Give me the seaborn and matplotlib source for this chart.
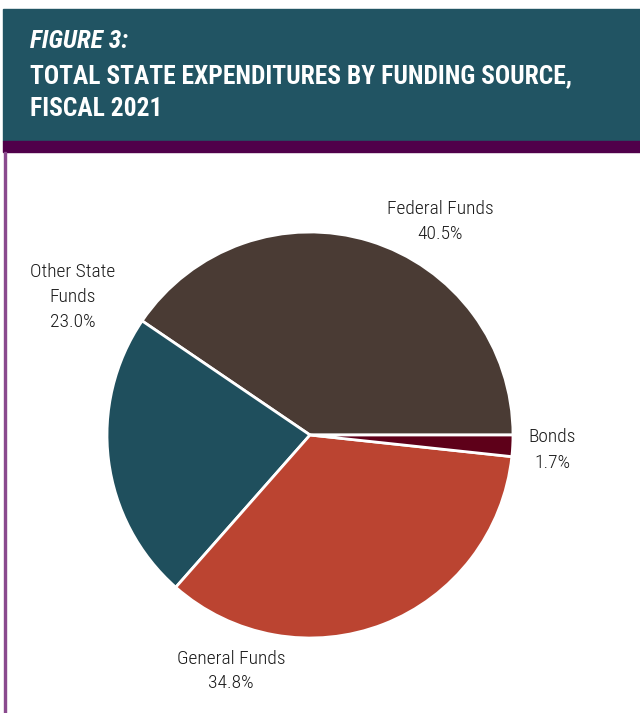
import matplotlib
matplotlib.use("Agg")
import matplotlib.pyplot as plt
from matplotlib.patches import Rectangle
import seaborn as sns

# Funding sources and their share of total state expenditures (%)
sources = ["Federal Funds", "Other State\nFunds", "General Funds", "Bonds"]
shares = [40.5, 23.0, 34.8, 1.7]
slice_colors = ["#4a3b34", "#1f4f5d", "#bb4431", "#5e0019"]

title_kicker = "FIGURE 3:"
title_lines = ["TOTAL STATE EXPENDITURES BY FUNDING SOURCE,", "FISCAL 2021"]

sns.set_theme(style="white")
plt.rcParams["font.family"] = ["Roboto Condensed", "Archivo Narrow", "DejaVu Sans"]

W, H = 640, 713
fig = plt.figure(figsize=(W / 100, H / 100), dpi=100)
fig.patch.set_facecolor("white")


def fx(px):
    return px / W


def fy(py):
    return 1 - py / H


# Header band and accent strip
fig.add_artist(Rectangle((fx(3), fy(141)), fx(637), 132 / H,
                         transform=fig.transFigure, color="#215463", zorder=0))
fig.add_artist(Rectangle((fx(3), fy(152)), fx(637), 11 / H,
                         transform=fig.transFigure, color="#50004a", zorder=0))
fig.add_artist(Rectangle((fx(4), 0), fx(2), fy(152),
                         transform=fig.transFigure, color="#8a4a8e", zorder=0))

fig.text(fx(30), fy(41), title_kicker, color="white", fontsize=18.4,
         fontweight="bold", fontstyle="italic", va="center", ha="left")
for i, line in enumerate(title_lines):
    fig.text(fx(30), fy(76 + 33 * i), line, color="white", fontsize=18.4,
             fontweight="bold", va="center", ha="left")

# Pie chart
cx, cy, r = 310, 435, 203
ax = fig.add_axes([fx(cx - r), (H - cy - r) / H, 2 * r / W, 2 * r / H])
palette = sns.color_palette(slice_colors)
ax.pie(shares, colors=palette, startangle=0, counterclock=True,
       wedgeprops=dict(edgecolor="white", linewidth=2))
ax.set_xlim(-1.0, 1.0)
ax.set_ylim(-1.0, 1.0)
ax.set_aspect("equal")
ax.axis("off")

# Slice labels
label_pos = [(440, 222), (73, 297), (231, 671), (552, 450)]
for name, val, (px, py) in zip(sources, shares, label_pos):
    fig.text(fx(px), fy(py), f"{name}\n{val:.1f}%", ha="center", va="center",
             fontsize=14, fontweight="light", color="#1a1a1a", linespacing=1.5)

fig.savefig("out.png", dpi=100)
